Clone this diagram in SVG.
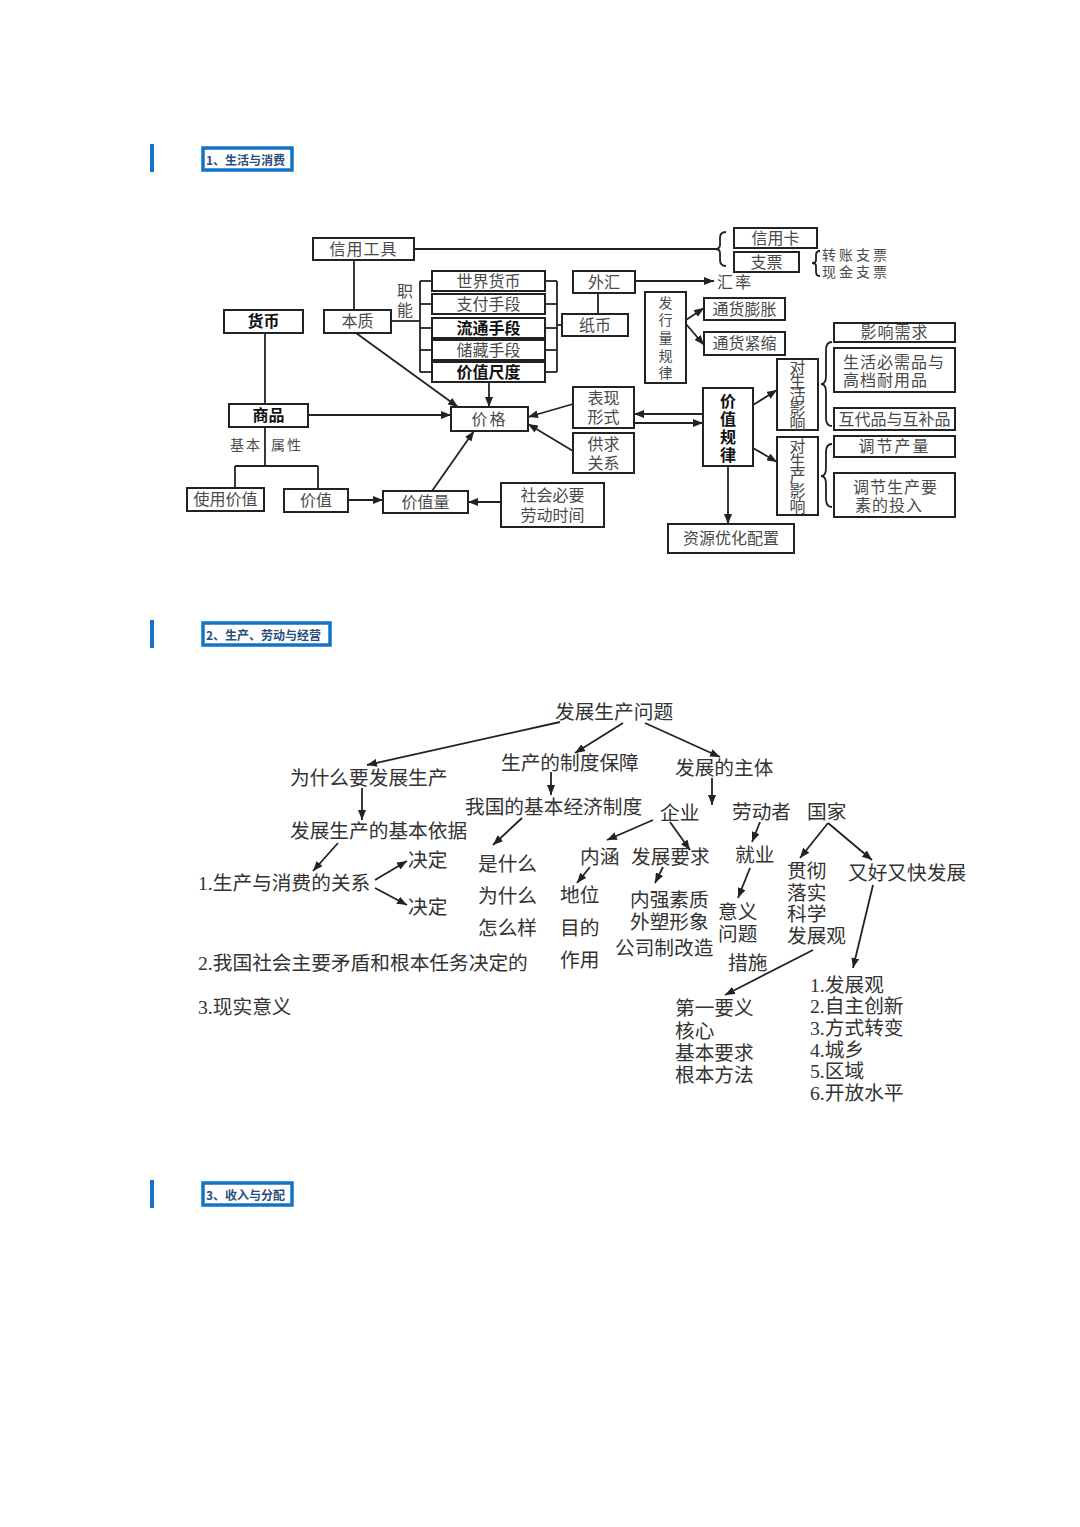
<svg xmlns="http://www.w3.org/2000/svg" width="1080" height="1527" viewBox="0 0 1080 1527">
<defs>
<marker id="ah" viewBox="0 0 10 8" refX="10" refY="4" markerWidth="10" markerHeight="8" orient="auto" markerUnits="userSpaceOnUse">
<path d="M0,0 L10,4 L0,8 z" fill="#222"/>
</marker>
<style>
.bx{fill:#fff;stroke:#222;stroke-width:2}
.t{font-family:"Liberation Serif","Noto Sans CJK SC",serif;font-size:16px;fill:#4a4a4a;text-anchor:middle;dominant-baseline:central}
.b{font-weight:bold;fill:#111}
.s{font-size:14px}
.l{text-anchor:start}
.t2{font-family:"Liberation Serif","Noto Sans CJK SC",serif;font-size:19.7px;fill:#333;dominant-baseline:central}
.ln{stroke:#222;stroke-width:1.8;fill:none}
.ar{marker-end:url(#ah)}
.bar{fill:#1473c6}
.hb{fill:#fff;stroke:#1473c6;stroke-width:3.5}
.ht{font-family:"Noto Sans CJK SC",sans-serif;font-size:12px;font-weight:bold;fill:#2a4d7c;dominant-baseline:central}
</style>
</defs>
<rect width="1080" height="1527" fill="#fff"/>

<g id="header1">
<rect class="bar" x="150" y="144" width="4" height="28"/>
<rect class="hb" x="203" y="148" width="89" height="22"/>
<text class="ht" x="206" y="159">1、生活与消费</text>
</g>
<g id="header2">
<rect class="bar" x="150" y="620" width="4" height="28"/>
<rect class="hb" x="203" y="623" width="127" height="22"/>
<text class="ht" x="206" y="634">2、生产、劳动与经营</text>
</g>
<g id="header3">
<rect class="bar" x="150" y="1180" width="4" height="28"/>
<rect class="hb" x="203" y="1183" width="89" height="22"/>
<text class="ht" x="206" y="1194">3、收入与分配</text>
</g>

<!-- Diagram 1 connectors -->
<g id="connectors1">
<line class="ln" x1="414" y1="249" x2="716" y2="249"/>
<path class="ln" d="M726,232 Q720,232 720,238 L720,245 Q720,249 715,249 Q720,249 720,253 L720,260 Q720,266 726,266"/>
<path class="ln" stroke-width="1.5" d="M820,251 Q816,251 816,255 L816,260 Q816,263 812,263 Q816,263 816,266 L816,272 Q816,276 820,276"/>
<line class="ln ar" x1="635" y1="281" x2="714" y2="281"/>
<line class="ln" x1="598" y1="293" x2="598" y2="314"/>
<line class="ln" x1="354" y1="260" x2="354" y2="310"/>
<line class="ln" x1="391" y1="321" x2="420" y2="321"/>
<line class="ln" x1="420" y1="281" x2="420" y2="372"/>
<line class="ln" x1="420" y1="281" x2="432" y2="281"/>
<line class="ln" x1="420" y1="304" x2="432" y2="304"/>
<line class="ln" x1="420" y1="328" x2="432" y2="328"/>
<line class="ln" x1="420" y1="350" x2="432" y2="350"/>
<line class="ln" x1="420" y1="372" x2="432" y2="372"/>
<line class="ln" x1="545" y1="281" x2="557" y2="281"/>
<line class="ln" x1="545" y1="304" x2="557" y2="304"/>
<line class="ln" x1="545" y1="328" x2="557" y2="328"/>
<line class="ln" x1="545" y1="350" x2="557" y2="350"/>
<line class="ln" x1="545" y1="372" x2="557" y2="372"/>
<line class="ln" x1="557" y1="281" x2="557" y2="372"/>
<line class="ln" x1="557" y1="325" x2="562" y2="325"/>
<line class="ln ar" x1="489" y1="382" x2="489" y2="407"/>
<line class="ln ar" x1="356" y1="333" x2="458" y2="407"/>
<line class="ln" x1="265" y1="333" x2="265" y2="404"/>
<line class="ln ar" x1="308" y1="415" x2="451" y2="415"/>
<line class="ln" x1="265" y1="427" x2="265" y2="466"/>
<line class="ln" x1="235" y1="466" x2="318" y2="466"/>
<line class="ln" x1="235" y1="466" x2="235" y2="488"/>
<line class="ln" x1="318" y1="466" x2="318" y2="489"/>
<line class="ln ar" x1="348" y1="500" x2="383" y2="500"/>
<line class="ln ar" x1="432" y1="491" x2="474" y2="431"/>
<line class="ln ar" x1="501" y1="502" x2="468" y2="502"/>
<line class="ln ar" x1="573" y1="404" x2="528" y2="417"/>
<line class="ln ar" x1="573" y1="451" x2="528" y2="424"/>
<line class="ln ar" x1="703" y1="414" x2="634" y2="414"/>
<line class="ln ar" x1="634" y1="423" x2="703" y2="423"/>
<line class="ln ar" x1="686" y1="320" x2="704" y2="308"/>
<line class="ln ar" x1="686" y1="324" x2="704" y2="345"/>
<line class="ln ar" x1="753" y1="405" x2="777" y2="390"/>
<line class="ln ar" x1="753" y1="448" x2="777" y2="462"/>
<line class="ln ar" x1="728" y1="466" x2="728" y2="524"/>
<path class="ln" stroke-width="1.5" d="M832,342 Q826,342 826,350 L826,376 Q826,384 821,384 Q826,384 826,392 L826,418 Q826,426 832,426"/>
<path class="ln" stroke-width="1.5" d="M832,444 Q826,444 826,452 L826,468 Q826,476 821,476 Q826,476 826,484 L826,499 Q826,507 832,507"/>
</g>

<!-- Diagram 1 nodes -->
<g id="n-xinyonggongju"><rect class="bx" x="313" y="238" width="101" height="22"/><text class="t" x="363.5" y="249" letter-spacing="1">信用工具</text></g>
<g id="n-xinyongka"><rect class="bx" x="734" y="228" width="83" height="20"/><text class="t" x="775.5" y="238">信用卡</text></g>
<g id="n-zhipiao"><rect class="bx" x="734" y="252" width="65" height="20"/><text class="t" x="766.5" y="262">支票</text></g>
<g id="n-zhipiaotype"><text class="t s l" x="822" y="255" letter-spacing="3">转账支票</text><text class="t s l" x="822" y="272" letter-spacing="3">现金支票</text></g>
<g id="n-waihui"><rect class="bx" x="573" y="271" width="62" height="22"/><text class="t" x="604" y="282">外汇</text></g>
<g id="n-huilv"><text class="t l" x="717" y="282" font-size="15" letter-spacing="2">汇率</text></g>
<g id="n-zhibi"><rect class="bx" x="562" y="314" width="66" height="22"/><text class="t" x="595" y="325">纸币</text></g>
<g id="n-zhineng"><text class="t" font-size="15"><tspan x="405" y="291">职</tspan><tspan x="405" y="310">能</tspan></text></g>
<g id="n-shijiehuobi"><rect class="bx" x="432" y="271" width="113" height="20"/><text class="t" x="488.5" y="281">世界货币</text></g>
<g id="n-zhifushouduan"><rect class="bx" x="432" y="294" width="113" height="20"/><text class="t" x="488.5" y="304">支付手段</text></g>
<g id="n-liutongshouduan"><rect class="bx" x="432" y="318" width="113" height="20"/><text class="t b" x="488.5" y="328">流通手段</text></g>
<g id="n-chucangshouduan"><rect class="bx" x="432" y="340" width="113" height="20"/><text class="t" x="488.5" y="350">储藏手段</text></g>
<g id="n-jiazhichidu"><rect class="bx" x="432" y="362" width="113" height="20"/><text class="t b" x="488.5" y="372">价值尺度</text></g>
<g id="n-benzhi"><rect class="bx" x="324" y="310" width="67" height="23"/><text class="t" x="357.5" y="321.5">本质</text></g>
<g id="n-huobi"><rect class="bx" x="224" y="310" width="79" height="23"/><text class="t b" x="263.5" y="321.5">货币</text></g>
<g id="n-shangpin"><rect class="bx" x="229" y="404" width="79" height="23"/><text class="t b" x="268.5" y="415.5">商品</text></g>
<g id="n-jibenshuxing"><text class="t s l" y="445" letter-spacing="2"><tspan x="230">基本</tspan><tspan x="271">属性</tspan></text></g>
<g id="n-shiyongjiazhi"><rect class="bx" x="187" y="488" width="77" height="23"/><text class="t" x="225.5" y="499.5">使用价值</text></g>
<g id="n-jiazhi"><rect class="bx" x="284" y="489" width="64" height="23"/><text class="t" x="316" y="500.5">价值</text></g>
<g id="n-jiazhiliang"><rect class="bx" x="383" y="491" width="85" height="22"/><text class="t" x="425.5" y="502">价值量</text></g>
<g id="n-shehuibiyao"><rect class="bx" x="501" y="483" width="103" height="44"/><text class="t" x="552.5" y="495">社会必要</text><text class="t" x="552.5" y="515">劳动时间</text></g>
<g id="n-jiage"><rect class="bx" x="451" y="407" width="77" height="24"/><text class="t" x="489.5" y="419" letter-spacing="2">价格</text></g>
<g id="n-biaoxianxingshi"><rect class="bx" x="573" y="387" width="61" height="41"/><text class="t" x="603.5" y="398">表现</text><text class="t" x="603.5" y="417">形式</text></g>
<g id="n-gongqiuguanxi"><rect class="bx" x="573" y="433" width="61" height="40"/><text class="t" x="603.5" y="444">供求</text><text class="t" x="603.5" y="463">关系</text></g>
<g id="n-jiazhiguilv"><rect class="bx" x="703" y="388" width="50" height="78"/><text class="t b"><tspan x="728" y="401">价</tspan><tspan x="728" y="419">值</tspan><tspan x="728" y="437">规</tspan><tspan x="728" y="455">律</tspan></text></g>
<g id="n-ziyuan"><rect class="bx" x="668" y="524" width="126" height="29"/><text class="t" x="731" y="538.5">资源优化配置</text></g>
<g id="n-faxingliang"><rect class="bx" x="645" y="292" width="41" height="91"/><text class="t s"><tspan x="665.5" y="303">发</tspan><tspan x="665.5" y="320">行</tspan><tspan x="665.5" y="338">量</tspan><tspan x="665.5" y="356">规</tspan><tspan x="665.5" y="373">律</tspan></text></g>
<g id="n-tonghuopengzhang"><rect class="bx" x="704" y="298" width="81" height="22"/><text class="t" x="744.5" y="309">通货膨胀</text></g>
<g id="n-tonghuojinsuo"><rect class="bx" x="704" y="332" width="81" height="23"/><text class="t" x="744.5" y="343.5">通货紧缩</text></g>
<g id="n-shenghuoyingxiang"><rect class="bx" x="777" y="359" width="41" height="71"/><text class="t" font-size="12"><tspan x="797.5" y="367">对</tspan><tspan x="797.5" y="381">生</tspan><tspan x="797.5" y="395">活</tspan><tspan x="797.5" y="409">影</tspan><tspan x="797.5" y="423">响</tspan></text></g>
<g id="n-shengchanyingxiang"><rect class="bx" x="777" y="437" width="41" height="78"/><text class="t" font-size="13"><tspan x="797.5" y="446">对</tspan><tspan x="797.5" y="461">生</tspan><tspan x="797.5" y="476">产</tspan><tspan x="797.5" y="491">影</tspan><tspan x="797.5" y="506">响</tspan></text></g>
<g id="n-yingxiangxuqiu"><rect class="bx" x="834" y="323" width="121" height="19"/><text class="t" x="894.5" y="332.5" letter-spacing="1">影响需求</text></g>
<g id="n-bixupin"><rect class="bx" x="834" y="348" width="121" height="44"/><text class="t l" x="843" y="362" letter-spacing="1">生活必需品与</text><text class="t l" x="843" y="380" letter-spacing="1">高档耐用品</text></g>
<g id="n-hudaipin"><rect class="bx" x="834" y="408" width="121" height="22"/><text class="t" x="894.5" y="419">互代品与互补品</text></g>
<g id="n-tiaojiechanliang"><rect class="bx" x="834" y="436" width="121" height="21"/><text class="t" x="894.5" y="446.5" letter-spacing="2">调节产量</text></g>
<g id="n-tiaojieyaosu"><rect class="bx" x="834" y="473" width="121" height="44"/><text class="t l" x="853" y="487" letter-spacing="1">调节生产要</text><text class="t l" x="855" y="505" letter-spacing="1">素的投入</text></g>

<!-- Diagram 2 connectors -->
<g id="connectors2">
<line class="ln ar" x1="560" y1="722" x2="367" y2="765"/>
<line class="ln ar" x1="623" y1="723" x2="575" y2="753"/>
<line class="ln ar" x1="645" y1="723" x2="720" y2="757"/>
<line class="ln ar" x1="362" y1="788" x2="362" y2="820"/>
<line class="ln ar" x1="551" y1="772" x2="551" y2="795"/>
<line class="ln ar" x1="712" y1="778" x2="712" y2="805"/>
<line class="ln ar" x1="338" y1="843" x2="313" y2="871"/>
<line class="ln ar" x1="375" y1="880" x2="407" y2="861"/>
<line class="ln ar" x1="375" y1="888" x2="407" y2="905"/>
<line class="ln ar" x1="522" y1="818" x2="493" y2="845"/>
<line class="ln ar" x1="653" y1="820" x2="607" y2="840"/>
<line class="ln ar" x1="670" y1="822" x2="690" y2="850"/>
<line class="ln ar" x1="760" y1="822" x2="752" y2="842"/>
<line class="ln ar" x1="750" y1="868" x2="738" y2="898"/>
<line class="ln ar" x1="828" y1="823" x2="800" y2="858"/>
<line class="ln ar" x1="828" y1="823" x2="872" y2="860"/>
<line class="ln ar" x1="590" y1="867" x2="577" y2="883"/>
<line class="ln ar" x1="663" y1="867" x2="655" y2="883"/>
<line class="ln ar" x1="873" y1="885" x2="853" y2="968"/>
<line class="ln ar" x1="813" y1="950" x2="725" y2="995"/>
</g>

<!-- Diagram 2 nodes -->
<g id="n-fazhanshengchanwenti"><text class="t2" x="555" y="712">发展生产问题</text></g>
<g id="n-zhiduobaozhang"><text class="t2" x="501" y="763">生产的制度保障</text></g>
<g id="n-fazhanzhuti"><text class="t2" x="675" y="768">发展的主体</text></g>
<g id="n-weishenme"><text class="t2" x="290" y="778">为什么要发展生产</text></g>
<g id="n-jibenyiju"><text class="t2" x="290" y="831">发展生产的基本依据</text></g>
<g id="n-jibenjingjizhidu"><text class="t2" x="465" y="807">我国的基本经济制度</text></g>
<g id="n-qiye"><text class="t2" x="660" y="813">企业</text></g>
<g id="n-laodongzhe"><text class="t2" x="732" y="812">劳动者</text></g>
<g id="n-guojia"><text class="t2" x="807" y="812">国家</text></g>
<g id="n-guanxi"><text class="t2" x="198" y="883">1.生产与消费的关系</text></g>
<g id="n-jueding1"><text class="t2" x="408" y="860">决定</text></g>
<g id="n-jueding2"><text class="t2" x="408" y="907">决定</text></g>
<g id="n-shishenme"><text class="t2" x="478" y="864">是什么</text><text class="t2" x="478" y="896">为什么</text><text class="t2" x="478" y="928">怎么样</text></g>
<g id="n-maodun"><text class="t2" x="198" y="963">2.我国社会主要矛盾和根本任务决定的</text></g>
<g id="n-xianshiyiyi"><text class="t2" x="198" y="1007">3.现实意义</text></g>
<g id="n-neihan"><text class="t2" x="580" y="857">内涵</text></g>
<g id="n-fazhanyaoqiu"><text class="t2" x="631" y="857">发展要求</text></g>
<g id="n-diwei"><text class="t2" x="560" y="895">地位</text><text class="t2" x="560" y="928">目的</text><text class="t2" x="560" y="960">作用</text></g>
<g id="n-neiqiang"><text class="t2" x="630" y="900">内强素质</text><text class="t2" x="630" y="922">外塑形象</text><text class="t2" x="615" y="948">公司制改造</text></g>
<g id="n-jiuye"><text class="t2" x="735" y="855">就业</text></g>
<g id="n-yiyi"><text class="t2" x="718" y="912">意义</text><text class="t2" x="718" y="934">问题</text><text class="t2" x="728" y="963">措施</text></g>
<g id="n-guanche"><text class="t2" x="787" y="871">贯彻</text><text class="t2" x="787" y="893">落实</text><text class="t2" x="787" y="914">科学</text><text class="t2" x="787" y="936">发展观</text></g>
<g id="n-youhaoyoukuai"><text class="t2" x="848" y="873">又好又快发展</text></g>
<g id="n-diyiyaoyi"><text class="t2" x="675" y="1008">第一要义</text><text class="t2" x="675" y="1031">核心</text><text class="t2" x="675" y="1053">基本要求</text><text class="t2" x="675" y="1075">根本方法</text></g>
<g id="n-fazhanguan"><text class="t2" x="810" y="985">1.发展观</text><text class="t2" x="810" y="1006">2.自主创新</text><text class="t2" x="810" y="1028">3.方式转变</text><text class="t2" x="810" y="1050">4.城乡</text><text class="t2" x="810" y="1071">5.区域</text><text class="t2" x="810" y="1093">6.开放水平</text></g>
</svg>
